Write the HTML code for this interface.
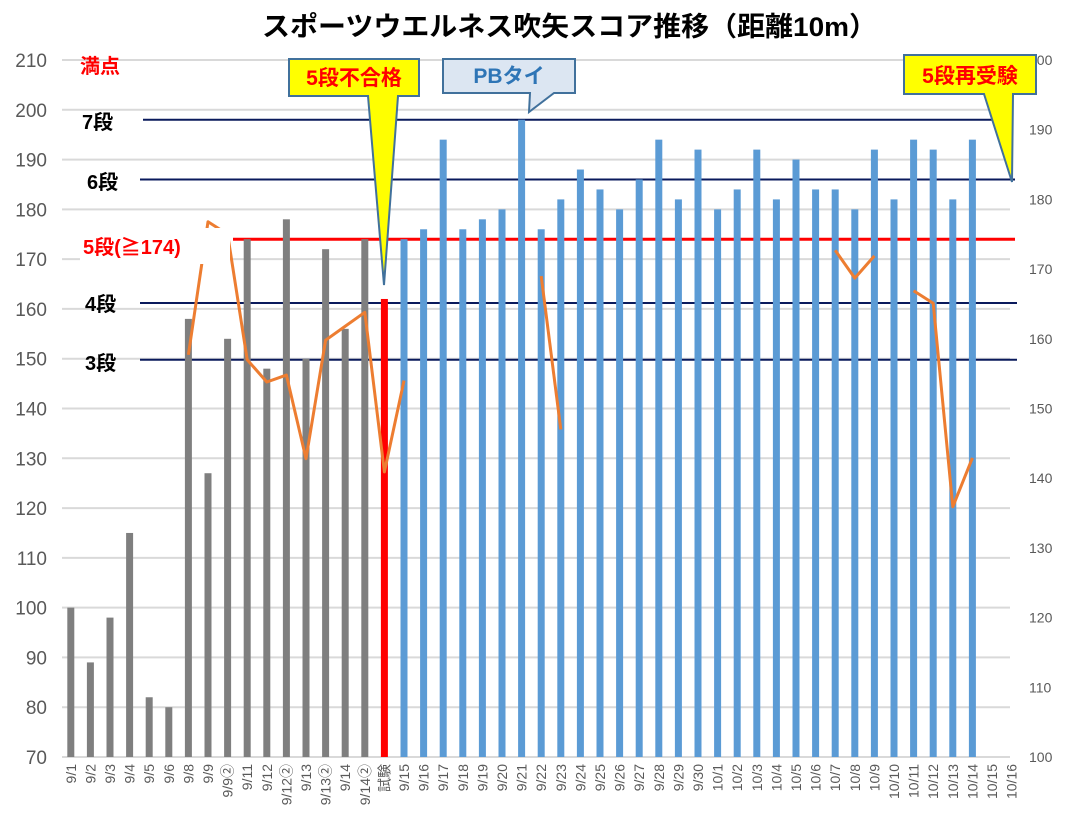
<!DOCTYPE html>
<html><head><meta charset="utf-8">
<style>
html,body{margin:0;padding:0;background:#fff;}
svg{display:block;font-family:"Liberation Sans","Noto Sans CJK JP",sans-serif;}
</style></head>
<body>
<svg id="chart" width="1080" height="839" viewBox="0 0 1080 839" xmlns="http://www.w3.org/2000/svg">
<text x="262" y="36" font-size="27" font-weight="bold" fill="#000" textLength="615" lengthAdjust="spacingAndGlyphs">スポーツウエルネス吹矢スコア推移（距離10m）</text>
<g id="grid"></g>
<g id="levels"></g>
<g id="bars"></g>
<g id="line"></g>
<g id="labels"></g>
<g id="callouts"></g>
</svg>
<script>
const categories = ["9/1","9/2","9/3","9/4","9/5","9/6","9/8","9/9","9/9②","9/11","9/12","9/12②","9/13","9/13②","9/14","9/14②","試験","9/15","9/16","9/17","9/18","9/19","9/20","9/21","9/22","9/23","9/24","9/25","9/26","9/27","9/28","9/29","9/30","10/1","10/2","10/3","10/4","10/5","10/6","10/7","10/8","10/9","10/10","10/11","10/12","10/13","10/14","10/15","10/16"];
const scores = [100,89,98,115,82,80,158,127,154,174,148,178,150,172,156,174,162,174,176,194,176,178,180,198,176,182,188,184,180,186,194,182,192,180,184,192,182,190,184,184,180,192,182,194,192,182,194,null,null];
const barKind = ["g","g","g","g","g","g","g","g","g","g","g","g","g","g","g","g","r","b","b","b","b","b","b","b","b","b","b","b","b","b","b","b","b","b","b","b","b","b","b","b","b","b","b","b","b","b","b","b","b"];
const lineValues = [null,null,null,null,null,null,157.7,176.8,175,157,153.8,154.8,142.8,159.8,161.8,163.8,140.9,154,null,null,null,null,null,null,169,147,null,null,null,null,null,null,null,null,null,null,null,null,null,172.7,168.7,171.9,null,166.9,165.1,135.9,142.9,null,null];
const leftTicks = [70,80,90,100,110,120,130,140,150,160,170,180,190,200,210];
const rightTicks = [100,110,120,130,140,150,160,170,180,190,200];
const levelNames = ["7段","6段","5段(≧174)","4段","3段"];
const levelValues = [198,186,174,161.2,149.8];

const NS="http://www.w3.org/2000/svg";
const X0=61, STEP=19.6, Y0=757, YT=60;
function xPos(i){return X0+STEP*(i+0.5);}
function yL(v){return Y0-(v-70)/(210-70)*(Y0-YT);}
function yR(v){return Y0-(v-100)/(200-100)*(Y0-YT);}
function mk(parent,tag,attrs){const e=document.createElementNS(NS,tag);for(const k in attrs)e.setAttribute(k,attrs[k]);document.getElementById(parent).appendChild(e);return e;}

// gridlines and left labels
leftTicks.forEach(v=>{
  const g=mk('grid','line',{x1:62,x2:1010,y1:yL(v),y2:yL(v),stroke:'#d9d9d9','stroke-width':2});
  
  
  const t=mk('grid','text',{x:47,y:yL(v)+7,'text-anchor':'end','font-size':19,fill:'#595959'});
  t.textContent=v;
  
  
});
rightTicks.forEach(v=>{
  const t=mk('grid','text',{x:1029,y:yR(v)+5,'font-size':14,fill:'#595959'});
  t.textContent=v;
  
  
});

// level lines
const levelStyle=[{x1:143,x2:993,c:'#0a1a5c',w:2},{x1:140,x2:1015,c:'#0a1a5c',w:2},{x1:233,x2:1015,c:'#ff0000',w:3},{x1:140,x2:1017,c:'#0a1a5c',w:2},{x1:140,x2:1017,c:'#0a1a5c',w:2}];
levelValues.forEach((v,i)=>{
  const s=levelStyle[i];
  const l=mk('levels','line',{x1:s.x1,x2:s.x2,y1:yL(v),y2:yL(v),stroke:s.c,'stroke-width':s.w});
  
  
});

// bars
const colors={g:'#7f7f7f',r:'#ff0000',b:'#5b9bd5'};
scores.forEach((v,i)=>{
  if(v===null)return;
  const y=yL(v);
  const r=mk('bars','rect',{x:xPos(i)-3.5,y:y,width:7,height:Y0-y,fill:colors[barKind[i]]});
  
  
});

// x labels
categories.forEach((c,i)=>{
  const t=mk('bars','text',{transform:`translate(${xPos(i)+5},764) rotate(-90)`,'text-anchor':'end','font-size':14,fill:'#595959'});
  t.textContent=c;
  
  
});

// orange line segments
let seg=[];
function flush(){if(seg.length>1){const p=mk('line','polyline',{points:seg.join(' '),fill:'none',stroke:'#ed7d31','stroke-width':3,'stroke-linejoin':'round'});}seg=[];}
lineValues.forEach((v,i)=>{if(v===null){flush();}else seg.push(xPos(i)+','+yR(v));});
flush();

// level labels
const lbl=[["満点",80,73,'#ff0000',20],["7段",82,129,'#000',20],["6段",87,189,'#000',20],["5段(≧174)",83,254,'#ff0000',20],["4段",85,311,'#000',20],["3段",85,370,'#000',20]];
lbl.forEach((a,i)=>{
  if(i===3){const bg=mk('labels','rect',{x:80,y:228,width:150,height:36,fill:'#fff'});}
  const t=mk('labels','text',{x:a[1],y:a[2],'font-size':a[4],'font-weight':'bold',fill:a[3]});
  t.textContent=a[0];
  
  
});

// callouts
function callout(name,pts,fill,stroke,text,tx,ty,tc,fs){
  const p=mk('callouts','polygon',{points:pts,fill:fill,stroke:stroke,'stroke-width':2});
  
  
  const t=mk('callouts','text',{x:tx,y:ty,'text-anchor':'middle','font-size':fs,'font-weight':'bold',fill:tc});
  t.textContent=text;
  
  
}
callout('fail-callout','289,59 419,59 419,96 398,96 384,285 368,96 289,96','#ffff00','#41719c','5段不合格',354,85,'#ff0000',21);
callout('pb-callout','443,59 575,59 575,93 554,93 529,112 530,93 443,93','#dce6f2','#41719c','PBタイ',509,83,'#2e75b6',21);
callout('retake-callout','904,55 1036,55 1036,94 1013,94 1012,182 984,94 904,94','#ffff00','#41719c','5段再受験',970,83,'#ff0000',21);
</script>
</body></html>
